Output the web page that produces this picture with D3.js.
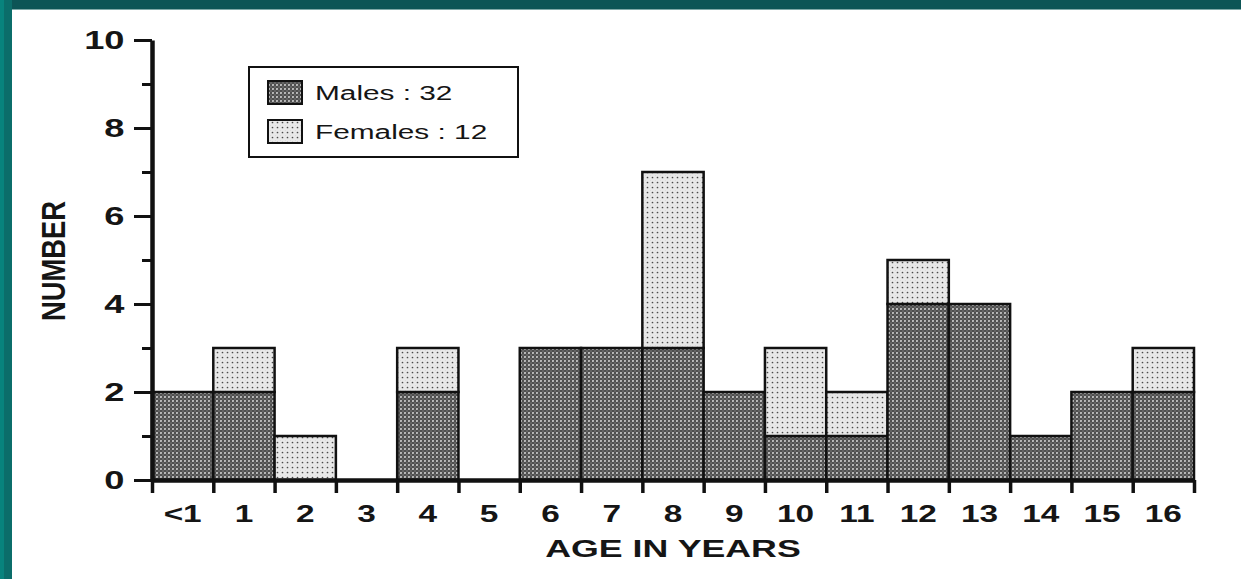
<!DOCTYPE html>
<html><head><meta charset="utf-8">
<script src="https://cdn.jsdelivr.net/npm/d3@7"></script>
<style>
html,body{margin:0;padding:0;background:#fff;}
svg{display:block;}
text{font-family:"Liberation Sans",Arial,Helvetica,sans-serif;fill:#151515;}
</style></head>
<body>
<svg id="c" width="1241" height="579"></svg>
<script>
const categories = ["<1","1","2","3","4","5","6","7","8","9","10","11","12","13","14","15","16"];
const males   = [2,2,0,0,2,0,3,3,3,2,1,1,4,4,1,2,2];
const females = [0,1,1,0,1,0,0,0,4,0,2,1,1,0,0,0,1];
const yTicks = [0,2,4,6,8,10];
const yMinorTicks = [1,3,5,7,9];
const legendLabels = ["Males : 32","Females : 12"];
const xTitle = "AGE IN YEARS";
const yTitle = "NUMBER";

(function(){
const svg = d3.select("#c");
const W = 1241, H = 579;
const mL = 152, mR = 1194, mT = 40, mB = 480;

// background & teal frame
svg.append("rect").attr("width",W).attr("height",H).attr("fill","#fff");
svg.append("rect").attr("x",0).attr("y",0).attr("width",W).attr("height",9).attr("fill","#0c5556");
svg.append("rect").attr("x",0).attr("y",9).attr("width",W).attr("height",1).attr("fill","#7fa9a8");
svg.append("rect").attr("x",0).attr("y",0).attr("width",12).attr("height",H).attr("fill","#0b6d6a");
svg.append("rect").attr("x",0).attr("y",0).attr("width",4).attr("height",H).attr("fill","#08837d");

// patterns
const defs = svg.append("defs");
const pm = defs.append("pattern").attr("id","pM").attr("patternUnits","userSpaceOnUse").attr("width",4).attr("height",4);
pm.append("rect").attr("width",4).attr("height",4).attr("fill","#4f4f4f");
pm.append("circle").attr("cx",1).attr("cy",1).attr("r",1.05).attr("fill","#c4c4c4");
pm.append("circle").attr("cx",3).attr("cy",3).attr("r",0.7).attr("fill","#8a8a8a");
const pf = defs.append("pattern").attr("id","pF").attr("patternUnits","userSpaceOnUse").attr("width",5).attr("height",5);
pf.append("rect").attr("width",5).attr("height",5).attr("fill","#e8e8e8");
pf.append("circle").attr("cx",2.5).attr("cy",2.5).attr("r",0.85).attr("fill","#4a4a4a");
pf.append("circle").attr("cx",0).attr("cy",0).attr("r",0.6).attr("fill","#bdbdbd");

const x = d3.scaleBand().domain(categories).range([mL,mR]).padding(0);
const xi = d3.scaleLinear().domain([0,categories.length]).range([mL,mR]);
const y = d3.scaleLinear().domain([0,10]).range([mB,mT]);

// bars
const g = svg.append("g");
categories.forEach((c,i)=>{
  const m = males[i], f = females[i];
  if (m>0) g.append("rect").attr("x",x(c)).attr("y",y(m)).attr("width",x.bandwidth()).attr("height",y(0)-y(m))
     .attr("fill","url(#pM)").attr("stroke","#111").attr("stroke-width",2.5);
  if (f>0) g.append("rect").attr("x",x(c)).attr("y",y(m+f)).attr("width",x.bandwidth()).attr("height",y(m)-y(m+f))
     .attr("fill","url(#pF)").attr("stroke","#111").attr("stroke-width",2.5);
});

function stretch(sel,s){ sel.each(function(){ d3.select(this).attr("transform",`scale(${s},1)`); }); }

// x axis: boundary ticks
const xAx = svg.append("g").attr("transform",`translate(0,${mB})`)
  .call(d3.axisBottom(xi).tickValues(d3.range(0,categories.length+1)).tickSize(13).tickSizeOuter(0).tickFormat(""));
xAx.select(".domain").attr("stroke","#111").attr("stroke-width",4.5);
xAx.selectAll(".tick line").attr("stroke","#111").attr("stroke-width",3.5);

// x labels
const xLab = svg.append("g").attr("transform",`translate(0,${mB})`)
  .call(d3.axisBottom(x).tickSize(0).tickPadding(0));
xLab.select(".domain").remove();
xLab.selectAll(".tick text").attr("y",42).attr("dy",0).attr("font-size",24).attr("font-weight","bold")
  .attr("font-family","'Liberation Sans',Arial,sans-serif").attr("fill","#151515");
stretch(xLab.selectAll(".tick text"),1.39);

// y axis
const yAx = svg.append("g").attr("transform",`translate(${mL},0)`)
  .call(d3.axisLeft(y).tickValues(yTicks).tickSize(18).tickSizeOuter(0).tickPadding(0).tickFormat(d3.format("d")));
yAx.select(".domain").attr("stroke","#111").attr("stroke-width",4.5);
yAx.selectAll(".tick line").attr("stroke","#111").attr("stroke-width",3);
yAx.selectAll(".tick text").attr("x",-19).attr("dy","0.33em").attr("font-size",25).attr("font-weight","bold")
  .attr("font-family","'Liberation Sans',Arial,sans-serif").attr("fill","#151515");
stretch(yAx.selectAll(".tick text"),1.45);
const yMin = svg.append("g").attr("transform",`translate(${mL},0)`)
  .call(d3.axisLeft(y).tickValues(yMinorTicks).tickSize(10).tickFormat(""));
yMin.select(".domain").remove();
yMin.selectAll(".tick line").attr("stroke","#111").attr("stroke-width",3);

// axis titles
svg.append("text").attr("transform",`translate(${(mL+mR)/2},557) scale(1.49,1)`)
  .attr("text-anchor","middle").attr("font-size",24).attr("font-weight","bold").text(xTitle);
svg.append("text").attr("transform",`translate(65,261) rotate(-90) scale(1.14,1.4)`)
  .attr("text-anchor","middle").attr("font-size",24).attr("font-weight","bold").text(yTitle);

// legend
const lg = svg.append("g");
lg.append("rect").attr("x",249).attr("y",67).attr("width",269).attr("height",90)
  .attr("fill","#fff").attr("stroke","#111").attr("stroke-width",2);
const swY = [81,120];
["url(#pM)","url(#pF)"].forEach((fill,i)=>{
  lg.append("rect").attr("x",268).attr("y",swY[i]).attr("width",34).attr("height",23)
    .attr("fill",fill).attr("stroke","#111").attr("stroke-width",2);
  lg.append("text").attr("transform",`translate(315,${swY[i]+19}) scale(1.42,1)`)
    .attr("font-size",21).text(legendLabels[i]);
});
})();
</script>
</body></html>
